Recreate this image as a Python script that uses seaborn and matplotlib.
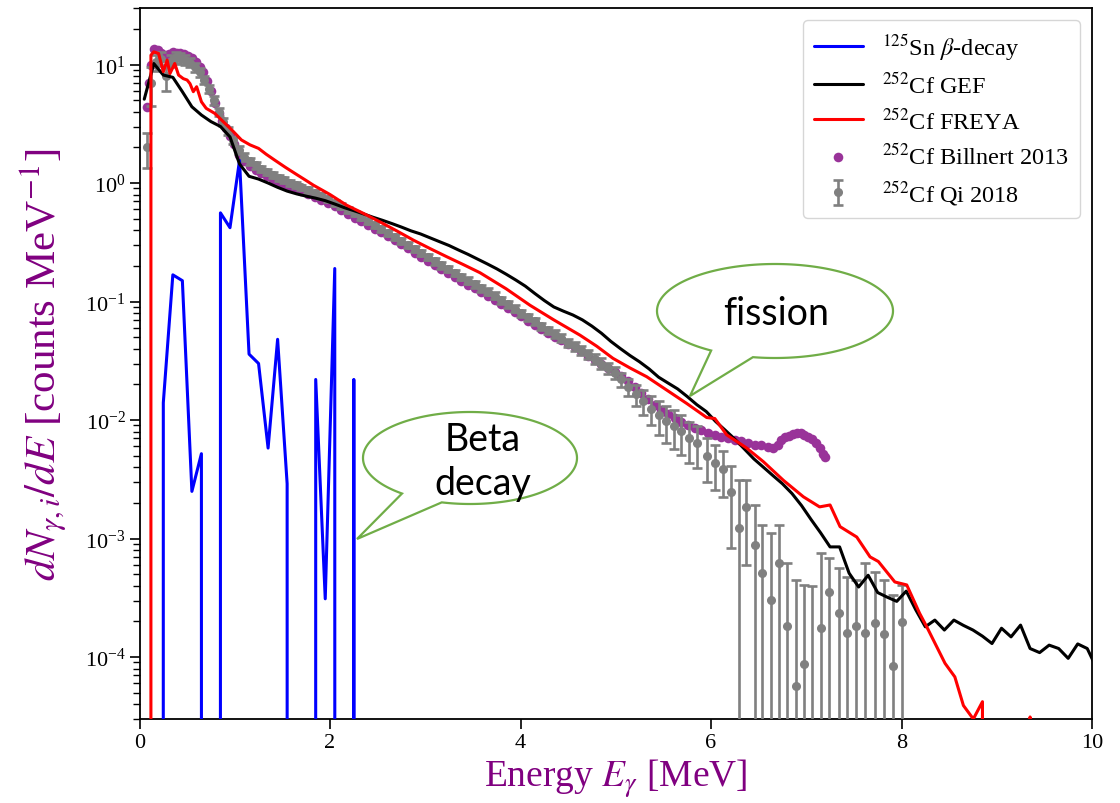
import numpy as np
import matplotlib
matplotlib.use("Agg")
import matplotlib.pyplot as plt
from matplotlib.patches import Polygon
import seaborn as sns

# ---------------------------------------------------------------- data
# 125Sn beta-decay gamma spectrum (0.1 MeV bins, zero = no emission)
sn125_energy = [0.05, 0.15, 0.25, 0.35, 0.45, 0.55, 0.65, 0.75, 0.85, 0.95,
                1.05, 1.15, 1.25, 1.35, 1.45, 1.55, 1.65, 1.75, 1.85, 1.95,
                2.05, 2.15, 2.25, 2.35, 2.45]
sn125_yield = [0, 0, 0.014, 0.168, 0.150, 0.0025, 0.0052, 0, 0.56, 0.42,
               1.55, 0.036, 0.030, 0.0058, 0.048, 0.0029, 0, 0, 0.022, 0.00031,
               0.19, 0, 0.022, 0, 0]

# 252Cf GEF prompt fission gamma spectrum
gef_energy = [0.05, 0.15, 0.25, 0.35, 0.45, 0.55, 0.65, 0.75, 0.85, 0.95,
              1.05, 1.15, 1.25, 1.35, 1.45, 1.55, 1.65, 1.75, 1.85, 1.95,
              2.05, 2.15, 2.25, 2.35, 2.45, 2.55, 2.65, 2.75, 2.85, 2.95,
              3.05, 3.15, 3.25, 3.35, 3.45, 3.55, 3.65, 3.75, 3.85, 3.95,
              4.05, 4.15, 4.25, 4.35, 4.45, 4.55, 4.65, 4.75, 4.85, 4.95,
              5.05, 5.15, 5.25, 5.35, 5.45, 5.55, 5.65, 5.75, 5.85, 5.95,
              6.05, 6.15, 6.25, 6.35, 6.45, 6.55, 6.65, 6.75, 6.85, 6.95,
              7.05, 7.15, 7.25, 7.35, 7.45, 7.55, 7.65, 7.75, 7.85, 7.95,
              8.05, 8.15, 8.25, 8.35, 8.45, 8.55, 8.65, 8.75, 8.85, 8.95,
              9.05, 9.15, 9.25, 9.35, 9.45, 9.55, 9.65, 9.75, 9.85, 9.95, 10.05]
gef_yield = [5.1, 10.2, 8.15, 7.8, 5.9, 4.4, 3.75, 3.3, 3.0, 2.45,
             1.45, 1.14, 1.08, 1.0, 0.92, 0.855, 0.81, 0.775, 0.745, 0.71,
             0.665, 0.62, 0.585, 0.55, 0.515, 0.485, 0.455, 0.425, 0.395, 0.372,
             0.345, 0.32, 0.297, 0.272, 0.25, 0.228, 0.208, 0.189, 0.17, 0.152,
             0.135, 0.117, 0.102, 0.090, 0.083, 0.077, 0.070, 0.062, 0.054, 0.046,
             0.040, 0.035, 0.031, 0.027, 0.023, 0.0205, 0.0183, 0.0158, 0.0135, 0.0118,
             0.0097, 0.0082, 0.0069, 0.0057, 0.0047, 0.0040, 0.0034, 0.0029, 0.0024, 0.0019,
             0.00145, 0.00112, 0.00085, 0.00085, 0.00051, 0.00039, 0.00049, 0.00035, 0.00032, 0.000295,
             0.00036, 0.00025, 0.00018, 0.000205, 0.000169, 0.000205, 0.000185, 0.000169, 0.00015, 0.00013,
             0.000175, 0.000148, 0.000186, 0.000118, 0.000109, 0.000126, 0.000118, 0.0000975, 0.000129, 0.000118,
             0.00008]

# 252Cf FREYA prompt fission gamma spectrum
freya_energy = [0.10, 0.12, 0.15, 0.20, 0.25, 0.29, 0.32, 0.37, 0.41, 0.46,
                0.50, 0.53, 0.565, 0.60, 0.65, 0.70, 0.79, 0.88, 0.97, 1.07,
                1.16, 1.25, 1.33, 1.42, 1.53, 1.65, 1.75, 1.825, 2.0, 2.175,
                2.35, 2.525, 2.7, 2.875, 3.05, 3.225, 3.4, 3.575, 3.85, 4.1,
                4.35, 4.625, 4.8, 4.97, 5.15, 5.325, 5.535, 5.745, 5.955, 6.04,
                6.165, 6.375, 6.55, 6.76, 6.97, 7.14, 7.25, 7.355, 7.53, 7.67,
                7.757, 7.93, 8.055, 8.19, 8.265, 8.457, 8.56, 8.65, 8.754, 8.85,
                8.86, 9.25, 9.35, 9.45, 10.0]
freya_yield = [0, 12.0, 12.8, 12.4, 8.7, 10.9, 8.4, 10.2, 8.15, 7.6,
               7.4, 6.9, 5.9, 6.5, 4.85, 4.27, 3.87, 3.29, 2.8, 2.31,
               2.1, 1.96, 1.75, 1.56, 1.36, 1.18, 1.05, 0.96, 0.80, 0.65,
               0.555, 0.47, 0.395, 0.33, 0.28, 0.239, 0.205, 0.175, 0.128, 0.093,
               0.070, 0.052, 0.042, 0.0332, 0.0275, 0.0232, 0.0179, 0.0138, 0.0105, 0.0103,
               0.0075, 0.0058, 0.00445, 0.0031, 0.00225, 0.00185, 0.00192, 0.00126, 0.00103, 0.00070,
               0.00064, 0.00043, 0.000406, 0.000234, 0.00018, 0.0000885, 0.000068, 0.000039, 0.000030, 0.000042,
               0, 0, 0.0000312, 0, 0]

# 252Cf Billnert 2013 measurement
billnert_energy = [0.08, 0.10, 0.12, 0.15, 0.19, 0.23, 0.27, 0.31, 0.35, 0.39,
                   0.43, 0.47, 0.51, 0.55, 0.59, 0.63, 0.67, 0.71, 0.75, 0.79,
                   0.83, 0.87, 0.91, 0.95, 0.99, 1.04, 1.10, 1.16, 1.22, 1.28,
                   1.34, 1.40, 1.46, 1.52, 1.58, 1.64, 1.70, 1.77, 1.84, 1.91,
                   1.98, 2.05, 2.12, 2.19, 2.26, 2.33, 2.40, 2.47, 2.54, 2.61,
                   2.68, 2.75, 2.82, 2.89, 2.96, 3.03, 3.10, 3.17, 3.24, 3.31,
                   3.38, 3.45, 3.52, 3.59, 3.66, 3.73, 3.80, 3.87, 3.94, 4.01,
                   4.08, 4.15, 4.22, 4.29, 4.36, 4.43, 4.50, 4.57, 4.64, 4.71,
                   4.78, 4.85, 4.92, 4.99, 5.06, 5.13, 5.20, 5.27, 5.34, 5.41,
                   5.48, 5.55, 5.62, 5.69, 5.76, 5.83, 5.90, 5.97, 6.04, 6.11,
                   6.18, 6.25, 6.32, 6.39, 6.46, 6.53, 6.60, 6.65, 6.70, 6.74,
                   6.78, 6.82, 6.86, 6.90, 6.94, 6.98, 7.02, 7.06, 7.10, 7.14,
                   7.18, 7.20]
billnert_yield = [4.4, 7.0, 10.0, 13.5, 13.2, 12.6, 12.1, 12.2, 12.8, 12.6,
                  12.4, 12.2, 11.9, 11.3, 10.6, 9.6, 8.6, 7.3, 6.0, 4.7,
                  3.9, 3.35, 2.9, 2.5, 2.12, 1.74, 1.53, 1.40, 1.30, 1.21,
                  1.14, 1.07, 1.02, 0.97, 0.93, 0.89, 0.85, 0.805, 0.76, 0.72,
                  0.675, 0.635, 0.59, 0.55, 0.51, 0.475, 0.442, 0.412, 0.384, 0.355,
                  0.328, 0.305, 0.281, 0.259, 0.238, 0.219, 0.202, 0.187, 0.173, 0.160,
                  0.149, 0.139, 0.130, 0.121, 0.112, 0.104, 0.096, 0.088, 0.082, 0.075,
                  0.069, 0.064, 0.059, 0.054, 0.050, 0.047, 0.044, 0.041, 0.038, 0.035,
                  0.032, 0.0295, 0.0273, 0.0252, 0.0234, 0.0213, 0.0190, 0.0170, 0.0150, 0.0134,
                  0.0122, 0.0112, 0.0104, 0.0097, 0.0091, 0.0086, 0.0082, 0.0078, 0.0075, 0.0072,
                  0.0070, 0.0068, 0.0066, 0.0064, 0.0062, 0.0061, 0.0059, 0.0058, 0.0062, 0.0068,
                  0.0072, 0.0074, 0.0076, 0.0077, 0.0077, 0.0075, 0.0072, 0.0069, 0.0064, 0.0058,
                  0.0052, 0.0049]

# 252Cf Qi 2018 measurement with uncertainties
qi_energy = [0.075, 0.125, 0.175, 0.225, 0.28, 0.33, 0.38, 0.43, 0.48, 0.53,
             0.58, 0.63, 0.68, 0.73, 0.78, 0.83, 0.88, 0.93, 0.98, 1.04,
             1.10, 1.16, 1.22, 1.28, 1.34, 1.40, 1.46, 1.52, 1.58, 1.64,
             1.70, 1.77, 1.84, 1.91, 1.98, 2.05, 2.12, 2.19, 2.26, 2.33,
             2.40, 2.47, 2.54, 2.61, 2.68, 2.75, 2.82, 2.89, 2.96, 3.03,
             3.10, 3.17, 3.24, 3.31, 3.38, 3.45, 3.52, 3.59, 3.66, 3.73,
             3.80, 3.87, 3.94, 4.01, 4.08, 4.15, 4.22, 4.29, 4.36, 4.43,
             4.50, 4.57, 4.64, 4.71, 4.78, 4.85, 4.92, 4.99, 5.06, 5.13,
             5.21, 5.29, 5.37, 5.45, 5.53, 5.61, 5.69, 5.77, 5.85, 5.96,
             6.04, 6.13, 6.21, 6.29, 6.37, 6.46, 6.54, 6.63, 6.71, 6.80,
             6.89, 6.98, 7.06, 7.15, 7.24, 7.34, 7.43, 7.52, 7.62, 7.72,
             7.82, 7.91, 8.01]
qi_yield = [2.0, 7.0, 10.5, 11.2, 8.0, 10.8, 11.5, 11.3, 11.0, 10.4,
            9.5, 8.6, 7.4, 6.2, 5.0, 4.0, 3.3, 2.75, 2.3, 1.9,
            1.66, 1.52, 1.41, 1.32, 1.24, 1.17, 1.11, 1.06, 1.01, 0.965,
            0.92, 0.875, 0.825, 0.78, 0.73, 0.685, 0.64, 0.595, 0.555, 0.515,
            0.48, 0.445, 0.413, 0.382, 0.353, 0.327, 0.302, 0.279, 0.257, 0.237,
            0.219, 0.203, 0.188, 0.174, 0.161, 0.150, 0.140, 0.130, 0.121, 0.112,
            0.103, 0.095, 0.087, 0.080, 0.074, 0.068, 0.062, 0.057, 0.053, 0.049,
            0.045, 0.042, 0.039, 0.036, 0.033, 0.030, 0.0275, 0.025, 0.022, 0.019,
            0.0165, 0.0145, 0.0125, 0.0110, 0.0098, 0.0089, 0.0081, 0.0070, 0.0064, 0.0050,
            0.00437, 0.00384, 0.00248, 0.00122, 0.00185, 0.00088, 0.000514, 0.000303, 0.000625, 0.000183,
            0.000057, 0.000087, 0.000020, 0.000175, 0.000351, 0.000234, 0.000158, 0.000183, 0.000158, 0.000192,
            0.000156, 0.000084, 0.000198]
qi_err = [0.65, 2.5, 1.6, 1.5, 2.0, 1.3, 1.2, 1.1, 1.0, 0.9,
          0.8, 0.7, 0.6, 0.5, 0.4, 0.3, 0.25, 0.2, 0.17, 0.14,
          0.12, 0.10, 0.09, 0.08, 0.08, 0.07, 0.07, 0.06, 0.06, 0.055,
          0.05, 0.05, 0.045, 0.045, 0.04, 0.04, 0.035, 0.035, 0.03, 0.03,
          0.028, 0.026, 0.024, 0.022, 0.02, 0.019, 0.018, 0.017, 0.016, 0.015,
          0.014, 0.013, 0.012, 0.011, 0.010, 0.010, 0.009, 0.0085, 0.008, 0.0075,
          0.007, 0.0065, 0.006, 0.0056, 0.0052, 0.0048, 0.0045, 0.0042, 0.0040, 0.0038,
          0.0036, 0.0035, 0.0034, 0.0033, 0.0032, 0.0031, 0.0030, 0.0030, 0.0030, 0.0032,
          0.0033, 0.0034, 0.0035, 0.0035, 0.0034, 0.0032, 0.0030, 0.0027, 0.0025, 0.0020,
          0.0018, 0.0016, 0.00165, 0.0019, 0.00125, 0.00104, 0.00079, 0.0008, 0.00068, 0.000435,
          0.00039, 0.00032, 0.00038, 0.00058, 0.00033, 0.00033, 0.00032, 0.00026, 0.00046, 0.00033,
          0.00029, 0.00025, 0.00021]

labels = [r"$^{125}$Sn $\beta$-decay", r"$^{252}$Cf GEF", r"$^{252}$Cf FREYA",
          r"$^{252}$Cf Billnert 2013", r"$^{252}$Cf Qi 2018"]
y_major = [1e-4, 1e-3, 1e-2, 1e-1, 1e0, 1e1]

# ---------------------------------------------------------------- style
sns.set_style("ticks", rc={"axes.edgecolor": "black", "xtick.color": "black",
                           "ytick.color": "black", "text.color": "black",
                           "axes.labelcolor": "black"})
plt.rcParams["font.family"] = ["Liberation Serif", "DejaVu Serif"]
plt.rcParams["mathtext.fontset"] = "stix"
plt.rcParams["axes.linewidth"] = 1.3

W, H = 1120, 804
fig = plt.figure(figsize=(W / 100, H / 100), dpi=100)
ax = fig.add_axes([139.5 / W, 1 - 720 / H, (1092 - 139.5) / W, (720 - 9) / H])

# ---------------------------------------------------------------- marks
sns.scatterplot(x=billnert_energy, y=billnert_yield, ax=ax, color="#993399",
                s=48, linewidth=0, label=labels[3], zorder=2)
ax.errorbar(qi_energy, qi_yield, yerr=qi_err, fmt="o", color="gray", ms=5.5,
            elinewidth=1.9, capsize=3.5, capthick=1.9, label=labels[4], zorder=3)
sns.lineplot(x=sn125_energy, y=sn125_yield, ax=ax, color="blue", lw=2.2,
             estimator=None, sort=False, label=labels[0], zorder=4)
sns.lineplot(x=gef_energy, y=gef_yield, ax=ax, color="black", lw=2.2,
             estimator=None, sort=False, label=labels[1], zorder=5)
sns.lineplot(x=freya_energy, y=freya_yield, ax=ax, color="red", lw=2.2,
             estimator=None, sort=False, label=labels[2], zorder=6)

ax.set_yscale("log")
ax.set_xlim(0, 10)
ax.set_ylim(3e-5, 30)
ax.set_xticks([0, 2, 4, 6, 8, 10])
ax.set_yticks(y_major)
ax.tick_params(axis="both", which="major", labelsize=16, length=7, width=1.2, pad=3)
ax.tick_params(axis="y", which="minor", length=5, width=1.0)

ax.set_xlabel(r"Energy $E_\gamma$ [MeV]", color="purple", fontsize=27)
ax.set_ylabel(r"$dN_{\gamma,i}/dE$ [counts MeV$^{-1}$]", color="purple", fontsize=31)
ax.xaxis.set_label_coords(0.5, (720 - 758) / 711)
ax.yaxis.set_label_coords((69 - 139.5) / 952.5, 0.5)

handles, labs = ax.get_legend_handles_labels()
order = [labs.index(l) for l in labels]
ax.legend([handles[i] for i in order], [labs[i] for i in order],
          loc="upper right", fontsize=17.5, handlelength=2.0,
          labelspacing=0.4, borderpad=0.45, handletextpad=0.8)


# ---------------------------------------------------------------- callouts
def speech_bubble(cx, cy, a, b, base1, base2, tip):
    """Ellipse outline (pixel coords, y down) with a pointed tail."""
    t1 = np.arctan2((base1[1] - cy) / b, (base1[0] - cx) / a)
    t2 = np.arctan2((base2[1] - cy) / b, (base2[0] - cx) / a)
    if t2 > t1:
        t2 -= 2 * np.pi
    t = np.linspace(t1, t2 + 2 * np.pi, 240)
    pts = np.column_stack([cx + a * np.cos(t), cy + b * np.sin(t)])
    pts = np.vstack([pts, [tip]])
    pts[:, 0] /= W
    pts[:, 1] = 1 - pts[:, 1] / H
    poly = Polygon(pts, closed=True, transform=fig.transFigure,
                   facecolor="white", edgecolor="#70AD47", linewidth=1.6,
                   zorder=10)
    fig.add_artist(poly)


speech_bubble(775, 312, 118, 47, (712, 351), (753, 358), (690, 397))
speech_bubble(470, 459, 107, 46, (403, 494), (442, 503), (357, 540))

fig.text(776 / W, 1 - 314 / H, "fission", ha="center", va="center",
         fontsize=27, family=["Lato", "DejaVu Sans"], zorder=11)
fig.text(483 / W, 1 - 462 / H, "Beta\ndecay", ha="center", va="center",
         fontsize=27, family=["Lato", "DejaVu Sans"], linespacing=1.3, zorder=11)

fig.savefig("out.png", dpi=100)
